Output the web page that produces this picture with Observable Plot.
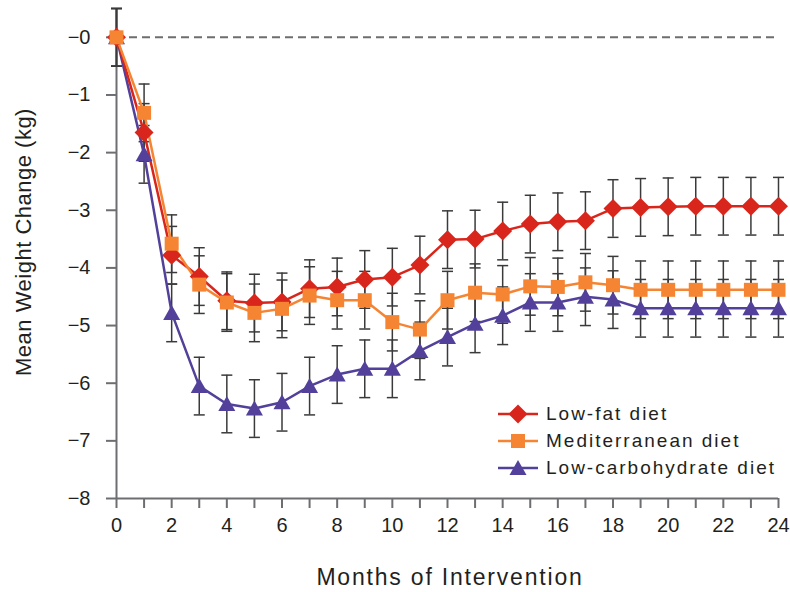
<!DOCTYPE html>
<html>
<head>
<meta charset="utf-8">
<script src="https://cdn.jsdelivr.net/npm/d3@7"></script>
<script src="https://cdn.jsdelivr.net/npm/@observablehq/plot@0.6"></script>
<style>
  html, body { margin: 0; padding: 0; background: #fff; }
  #wrap { position: relative; width: 790px; height: 592px; font-family: "Liberation Sans", Arial, sans-serif; color: #231f20; }
  #legend { position: absolute; left: 496px; top: 400px; }
  .row { display: flex; align-items: center; height: 27px; }
  .row span { font-size: 19px; letter-spacing: 2px; margin-left: 6px; white-space: nowrap; }
  #ytitle { position: absolute; left: 24px; top: 242px; transform: translate(-50%, -50%) rotate(-90deg); font-size: 22px; letter-spacing: 0.5px; white-space: nowrap; }
  #xtitle { position: absolute; left: 450px; top: 577px; transform: translate(-50%, -50%); font-size: 23px; letter-spacing: 1.8px; white-space: nowrap; }
</style>
</head>
<body>
<div id="wrap"><div id="legend"></div><div id="ytitle"></div><div id="xtitle"></div></div>
<script>
// ---- data ----
const months = [0,1,2,3,4,5,6,7,8,9,10,11,12,13,14,15,16,17,18,19,20,21,22,23,24];
const seriesNames = ["Low-fat diet", "Mediterranean diet", "Low-carbohydrate diet"];
const seriesColors = ["#d9261c", "#f58533", "#52409a"];
const lowFat   = [0,-1.65,-3.78,-4.15,-4.57,-4.61,-4.59,-4.36,-4.33,-4.20,-4.16,-3.95,-3.51,-3.50,-3.36,-3.24,-3.20,-3.18,-2.97,-2.95,-2.94,-2.93,-2.93,-2.93,-2.93];
const mediterr = [0,-1.31,-3.58,-4.29,-4.60,-4.78,-4.71,-4.48,-4.56,-4.56,-4.94,-5.07,-4.56,-4.43,-4.46,-4.32,-4.33,-4.25,-4.30,-4.38,-4.38,-4.38,-4.38,-4.38,-4.38];
const lowCarb  = [0,-2.03,-4.78,-6.05,-6.36,-6.44,-6.33,-6.05,-5.85,-5.75,-5.75,-5.44,-5.20,-4.97,-4.83,-4.60,-4.60,-4.50,-4.55,-4.70,-4.70,-4.70,-4.70,-4.70,-4.70];
const lowFatErr   = [0.5,0.5,0.5,0.5,0.5,0.5,0.5,0.5,0.5,0.5,0.5,0.5,0.5,0.5,0.5,0.5,0.5,0.5,0.5,0.5,0.5,0.5,0.5,0.5,0.5];
const mediterrErr = [0.5,0.5,0.5,0.5,0.5,0.5,0.5,0.5,0.5,0.5,0.5,0.5,0.5,0.5,0.5,0.5,0.5,0.5,0.5,0.5,0.5,0.5,0.5,0.5,0.5];
const lowCarbErr  = [0.5,0.5,0.5,0.5,0.5,0.5,0.5,0.5,0.5,0.5,0.5,0.5,0.5,0.5,0.5,0.5,0.5,0.5,0.5,0.5,0.5,0.5,0.5,0.5,0.5];
const yTicks = [0,-1,-2,-3,-4,-5,-6,-7,-8];
const yTickLabels = ["\u22120","\u22121","\u22122","\u22123","\u22124","\u22125","\u22126","\u22127","\u22128"];
const xTicks = months;
const xLabeled = [0,2,4,6,8,10,12,14,16,18,20,22,24];
const yTitle = "Mean Weight Change (kg)";
const xTitle = "Months of Intervention";

// ---- build table ----
const values = [lowFat, mediterr, lowCarb];
const errs = [lowFatErr, mediterrErr, lowCarbErr];
const rows = [];
seriesNames.forEach((name, si) => {
  months.forEach((m, i) => rows.push({series: name, month: m, value: values[si][i], err: errs[si][i]}));
});

// ---- symbols ----
const diamond = {draw(c) { c.moveTo(0,-9.5); c.lineTo(9.5,0); c.lineTo(0,9.5); c.lineTo(-9.5,0); c.closePath(); }};
const square = {draw(c) { c.moveTo(-7,-7); c.lineTo(7,-7); c.lineTo(7,7); c.lineTo(-7,7); c.closePath(); }};
const triangle = {draw(c) { c.moveTo(0,-8); c.lineTo(8.5,7); c.lineTo(-8.5,7); c.closePath(); }};
const cap = {draw(c) { c.moveTo(-5.5,0); c.lineTo(5.5,0); }};
const symbols = [diamond, square, triangle];
const drawOrder = [2, 0, 1];

const marks = [
  Plot.ruleY([0], {stroke: "#6d6e71", strokeWidth: 2, strokeDasharray: "8,5"}),
  Plot.ruleX([0], {y1: -8, y2: 0.5, stroke: "#6d6e71", strokeWidth: 2}),
  Plot.ruleY([-8], {stroke: "#6d6e71", strokeWidth: 2}),
  Plot.axisY({ticks: yTicks, tickSize: 10, tickPadding: 16, fontSize: 20, stroke: "#6d6e71", strokeWidth: 2,
    tickFormat: d => yTickLabels[yTicks.indexOf(d)], label: null}),
  Plot.axisX({ticks: xTicks, tickSize: 10, tickPadding: 9, fontSize: 20, stroke: "#6d6e71", strokeWidth: 2,
    tickFormat: d => xLabeled.includes(d) ? String(d) : "", label: null}),
  // error bars
  Plot.ruleX(rows, {x: "month", y1: d => d.value - d.err, y2: d => d.value + d.err, stroke: "#3a3a3a", strokeWidth: 1.5}),
  Plot.dot(rows, {x: "month", y: d => d.value + d.err, symbol: () => cap, stroke: "#3a3a3a", strokeWidth: 1.5, fill: "none"}),
  Plot.dot(rows, {x: "month", y: d => d.value - d.err, symbol: () => cap, stroke: "#3a3a3a", strokeWidth: 1.5, fill: "none"}),
];
drawOrder.forEach(si => {
  marks.push(Plot.line(rows.filter(r => r.series === seriesNames[si]), {x: "month", y: "value", stroke: seriesColors[si], strokeWidth: 2.5}));
});
drawOrder.forEach(si => {
  marks.push(Plot.dot(rows.filter(r => r.series === seriesNames[si]), {x: "month", y: "value", symbol: () => symbols[si], fill: seriesColors[si], stroke: "none"}));
});

const chart = Plot.plot({
  width: 790, height: 592,
  marginLeft: 116, marginRight: 12, marginTop: 8, marginBottom: 94,
  x: {domain: [0, 24]},
  y: {domain: [-8, 0.5]},
  symbol: {type: "identity"},
  style: {fontFamily: "'Liberation Sans', Arial, sans-serif", color: "#231f20", background: "white", overflow: "visible"},
  marks
});
const wrap = document.getElementById("wrap");
wrap.insertBefore(chart, wrap.firstChild);
document.getElementById("ytitle").textContent = yTitle;
document.getElementById("xtitle").textContent = xTitle;

// ---- legend ----
const legend = document.getElementById("legend");
const shapePaths = [
  "M20,4.5L29.5,14L20,23.5L10.5,14Z",
  "M13,7H27V21H13Z",
  "M20,6L28.5,21L11.5,21Z"
];
seriesNames.forEach((name, i) => {
  const row = document.createElement("div");
  row.className = "row";
  row.innerHTML = `<svg width="44" height="27" viewBox="0 0 44 27"><line x1="2" x2="42" y1="14" y2="14" stroke="${seriesColors[i]}" stroke-width="2.5"/><path d="${shapePaths[i]}" transform="translate(2,0)" fill="${seriesColors[i]}"/></svg><span>${name}</span>`;
  legend.appendChild(row);
});
</script>
</body>
</html>
